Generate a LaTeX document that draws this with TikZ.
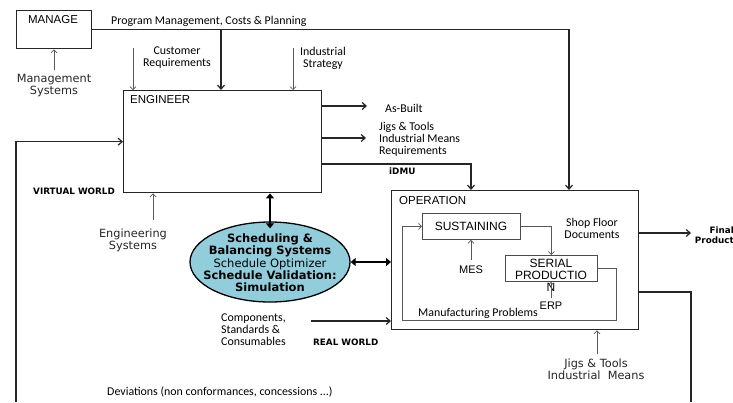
\documentclass[tikz,border=0pt]{standalone}
\usepackage{fontspec}
\setmainfont{Carlito}
\newfontfamily\arialf{Liberation Sans}
\newfontfamily\verd{DejaVu Sans}
\usetikzlibrary{arrows.meta,shapes.geometric}
\definecolor{ellfill}{RGB}{146,205,220}
\tikzset{
  mainline/.style={line width=1.3pt, draw=black!85},
  thinline/.style={line width=0.7pt, draw=black!65},
  tipm/.style={-{Straight Barb[length=4pt,width=7pt,line width=1.2pt]}},
  tipt/.style={-{Straight Barb[length=3pt,width=6pt,line width=0.7pt]}},
  dbl/.style={line width=2.6pt, draw=black, {Triangle[length=5pt,width=8pt]}-{Triangle[length=5pt,width=8pt]}},
  boxo/.style={draw=black!85, line width=1.4pt, inner sep=0, anchor=north west},
  boxi/.style={draw=black!70, line width=0.8pt, inner sep=0, anchor=north west},
  lbl/.style={font=\fontsize{11.9}{12}\selectfont, align=center, inner sep=0},
  lbll/.style={font=\fontsize{11.9}{12}\selectfont, align=left, inner sep=0},
  ttl/.style={font=\arialf\fontsize{11.5}{12}\selectfont, inner sep=0},
  vlbl/.style={font=\verd\fontsize{11.3}{12}\selectfont, align=center, inner sep=0, text=black!85},
  blbl/.style={font=\verd\bfseries\fontsize{8.8}{10.5}\selectfont, inner sep=0},
}
\begin{document}
\begin{tikzpicture}[x=1pt,y=-1pt]
\useasboundingbox[fill=white] (0,0) rectangle (733,402);

% boxes
\node[boxo, minimum width=75pt, minimum height=38pt] (manage) at (16,10) {};
\node[ttl] (managet) at (53,20) {MANAGE};
\node[boxo, minimum width=198pt, minimum height=102pt] (engineer) at (123,90) {};
\node[ttl, anchor=west] (engineert) at (130,100) {ENGINEER};
\node[boxo, minimum width=247pt, minimum height=139pt] (operation) at (391,190) {};
\node[ttl, anchor=west] (operationt) at (399,201) {OPERATION};
\node[boxi, minimum width=98pt, minimum height=26pt] (sustain) at (422,213) {};
\node[ttl, font=\arialf\fontsize{12}{12}\selectfont] (sustaint) at (471,226) {SUSTAINING};
\node[boxi, minimum width=92pt, minimum height=26pt] (serial) at (505,255) {};
\node[ttl, font=\arialf\fontsize{12}{12}\selectfont, align=center, anchor=north] (serialt) at (551,259) {SERIAL\\PRODUCTIO\\N};

% ellipse
\node[ellipse, draw=black, line width=1.3pt, fill=ellfill, minimum width=160pt, minimum height=80pt, inner sep=0] (sched) at (270,262) {};
\node[font=\verd\fontsize{11.5}{12.3}\selectfont, align=center, inner sep=0] (schedt) at (270,263)
 {\textbf{Scheduling\ \&}\\\textbf{Balancing Systems}\\Schedule Optimizer\\\textbf{Schedule Validation:}\\\textbf{Simulation}};

% labels
\node[lbl, anchor=base west] (pmc) at (111,24) {Program Management, Costs \& Planning};
\node[lbl] (custt) at (177,58) {Customer\\Requirements};
\node[lbl] (indst) at (323,58) {Industrial\\Strategy};
\node[vlbl] (mgst) at (54,86) {Management\\Systems};
\node[vlbl] (engst) at (133,240) {Engineering\\Systems};
\node[lbl, anchor=west] (asb) at (385,108) {As-Built};
\node[lbll, anchor=west] (jigreq) at (379,139) {Jigs \& Tools\\Industrial Means\\Requirements};
\node[blbl, anchor=west] (idmu) at (389,171) {iDMU};
\node[blbl, anchor=west] (vw) at (33,191) {VIRTUAL WORLD};
\node[blbl, anchor=west] (rw) at (313,342) {REAL WORLD};
\node[blbl, align=right, anchor=east] (fpt) at (734,235) {Final\\Product};
\node[lbl] (sfd) at (592,228) {Shop Floor\\Documents};
\node[lbll, anchor=west] (cmp) at (221,330) {Components,\\Standards \&\\Consumables};
\node[lbl, anchor=west] (mfp) at (418,313) {Manufacturing Problems};
\node[ttl, font=\arialf\fontsize{11}{12}\selectfont] (mes) at (471,270) {MES};
\node[ttl, font=\arialf\fontsize{11}{12}\selectfont] (erp) at (551,306) {ERP};
\node[vlbl] (jigst) at (596,369) {Jigs \& Tools\\Industrial\ \ Means};
\node[lbl, anchor=west] (dev) at (107,392) {Deviations (non conformances, concessions ...)};

% coordinates
\coordinate (pcx) at (569,28.5);
\coordinate (br) at (221,28.5);
\coordinate (cr) at (133,48);
\coordinate (is) at (293,48);
\coordinate (ms) at (54,70);
\coordinate (es) at (153,220);
\coordinate (ab) at (367,106);
\coordinate (jr) at (366,138);
\coordinate (idm) at (471,164);
\coordinate (fbl) at (16,402);
\coordinate (fbr) at (691,402);
\coordinate (orc) at (691,292);
\coordinate (fp) at (691,233);
\coordinate (cs) at (311,321);
\coordinate (jg) at (597,354);
\coordinate (mesb) at (471,260);
\coordinate (erpb) at (551,298);
\coordinate (lr) at (616,320);
\coordinate (ll) at (402,320);
\coordinate (sdx) at (270,0);

% main connectors
\draw[mainline, tipm] (manage.east) -| (operation.north -| pcx);
\draw[mainline, tipm] (br) -- (br |- engineer.north);
\draw[mainline, tipm] (ab -| engineer.east) -- (ab);
\draw[mainline, tipm] (jr -| engineer.east) -- (jr);
\draw[mainline, tipm] (idm -| engineer.east) -| (operation.north -| idm);
\draw[mainline, tipm] (fbl) |- (engineer.west);
\draw[mainline] (orc -| operation.east) -- (orc) -- (fbr);
\draw[mainline, tipm] (fp -| operation.east) -- (fp);
\draw[mainline, tipm] (cs) -- (cs -| operation.west);
\draw[dbl] (engineer.south -| sdx) -- ([yshift=-7pt]sched.north);
\draw[dbl] (sched.east) -- (sched.east -| operation.west);

% thin connectors
\draw[thinline, tipt] (cr) -- (cr |- engineer.north);
\draw[thinline, tipt] (is) -- (is |- engineer.north);
\draw[thinline, tipt] (ms) -- (manage.south -| ms);
\draw[thinline, tipt] (es) -- (es |- engineer.south);
\draw[thinline, tipt] (jg) -- (jg |- operation.south);
\draw[thinline, tipt] (mesb) -- (mesb |- sustain.south);
\draw[thinline, tipt] (erpb) -- (erpb |- serial.south);
\draw[thinline, tipt] (sustain.east) -| (serial.north);
\draw[thinline, tipt] (serial.east) -| (lr) -- (ll) |- (sustain.west);
\end{tikzpicture}
\end{document}
